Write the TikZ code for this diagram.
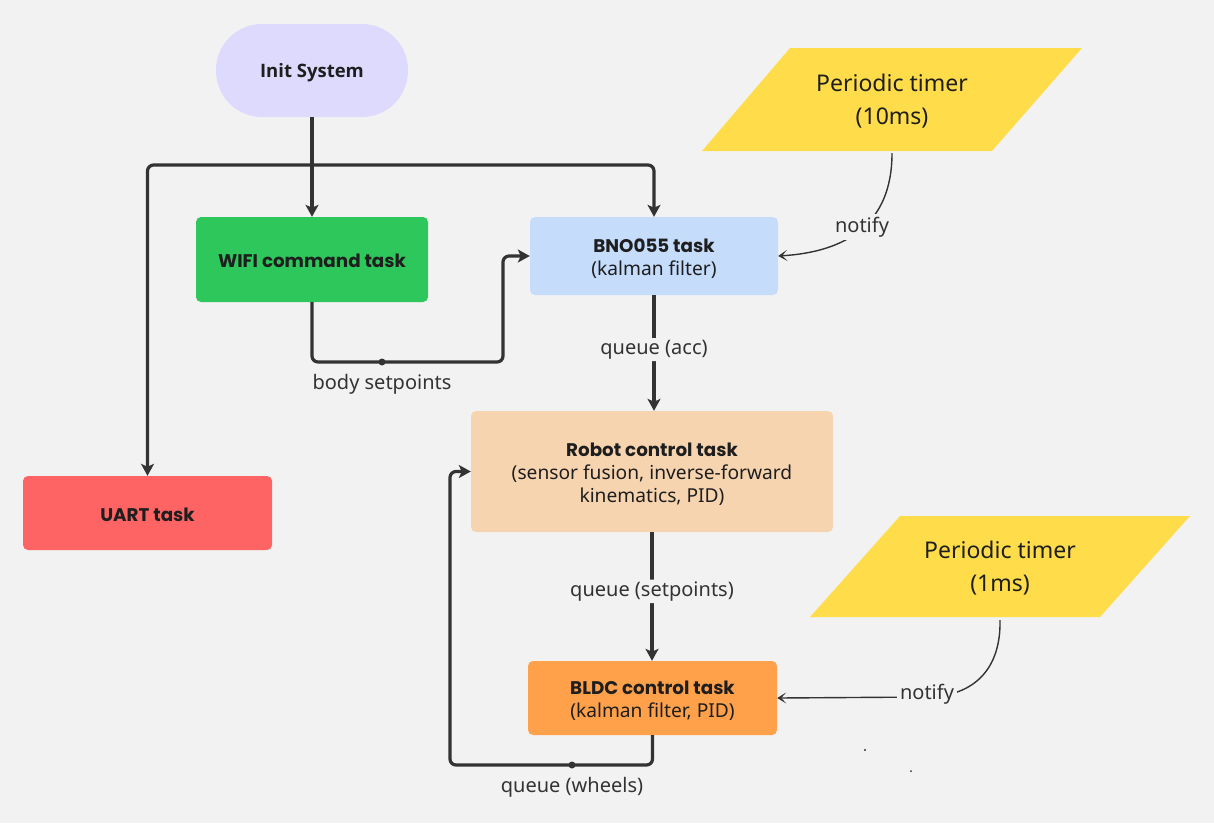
\documentclass[tikz,border=0pt]{standalone}
\usepackage{fontspec}
\setmainfont{Noto Sans}
\newfontfamily\titlefont{Poppins}
\newfontfamily\initfont{Open Sans}
\usetikzlibrary{arrows.meta}
\definecolor{bg}{HTML}{F2F2F2}
\definecolor{ln}{HTML}{333333}
\definecolor{txt}{HTML}{1E1E1E}
\definecolor{initc}{HTML}{DEDAFE}
\definecolor{wific}{HTML}{2DC75C}
\definecolor{bnoc}{HTML}{C6DCFB}
\definecolor{uartc}{HTML}{FF6464}
\definecolor{robc}{HTML}{F7D4B0}
\definecolor{bldcc}{HTML}{FFA04B}
\definecolor{yelc}{HTML}{FFDC4A}
\newcommand{\ttl}[1]{{\titlefont\bfseries\fontsize{18.3}{23}\selectfont #1}}
\newcommand{\lowered}[2]{\raisebox{-#1}[\height][\depth]{\begin{tabular}{@{}c@{}}#2\end{tabular}}}
\begin{document}
\begin{tikzpicture}[x=1pt,y=-1pt,
  box/.style={rounded corners=5pt, inner sep=0pt, align=center, text=txt,
    font=\fontsize{19.2}{23}\selectfont},
  conn/.style={line width=3.2pt, draw=ln, rounded corners=6pt,
    -{Stealth[length=12pt,width=13pt,inset=3pt]}},
  plain/.style={line width=3.2pt, draw=ln},
  thinconn/.style={line width=1.4pt, draw=ln,
    -{Stealth[length=9pt,width=11pt,inset=5pt]}},
  lbl/.style={font=\fontsize{20}{24}\selectfont, text=ln, fill=bg, inner sep=2pt},
  timertext/.style={align=center, text=txt, minimum width=200pt, minimum height=103pt,
    inner sep=0pt, font=\fontsize{23}{33}\selectfont}
]
\fill[bg] (0,0) rectangle (1214,823);
\useasboundingbox (0,0) rectangle (1214,823);

% timers
\fill[yelc] (702,151) -- (790,48) -- (1082,48) -- (992,151) -- cycle;
\node[timertext] (t1) at (892,101.5) {Periodic timer\\(10ms)};
\fill[yelc] (810,617) -- (900,516) -- (1190,516) -- (1100,617) -- cycle;
\node[timertext] (t2) at (1000,568.5) {Periodic timer\\(1ms)};

% boxes
\node[box, fill=initc, minimum width=192pt, minimum height=93pt, rounded corners=46pt]
  (init) at (312,70.5) {\lowered{2pt}{\initfont\bfseries\fontsize{18.5}{23}\selectfont Init System}};
\node[box, fill=wific, minimum width=232pt, minimum height=85pt]
  (wifi) at (312,259.5) {\lowered{3pt}{\ttl{WIFI command task}}};
\node[box, fill=bnoc, minimum width=248pt, minimum height=78pt]
  (bno) at (654,256) {\lowered{3pt}{\ttl{BNO055 task}\\(kalman filter)}};
\node[box, fill=uartc, minimum width=249pt, minimum height=74pt]
  (uart) at (147.5,513) {\lowered{3.5pt}{\ttl{UART task}}};
\node[box, fill=robc, minimum width=362pt, minimum height=121pt]
  (rob) at (652,471.5) {\lowered{3pt}{\ttl{Robot control task}\\(sensor fusion, inverse-forward\\kinematics, PID)}};
\node[box, fill=bldcc, minimum width=249pt, minimum height=74pt]
  (bldc) at (652.5,698) {\lowered{3pt}{\ttl{BLDC control task}\\(kalman filter, PID)}};

% init fan-out
\coordinate (j) at (312,165);
\draw[plain] (init.south) -- (j);
\draw[conn] (j) -- (wifi.north);
\draw[conn] (j) -| (uart.north);
\draw[conn] (j) -| (bno.north);

% wifi -> bno
\coordinate (w1) at (382,362);
\draw[conn] (wifi.south) |- (w1) -| (503,256) -- (bno.west);
\fill[ln] (w1) circle (3.5pt);
\node[lbl, fill=none] (lw1) at (382,384) {body setpoints};

% bno -> robot
\draw[conn] (bno.south) -- node[lbl, pos=0.47] (lq1) {queue (acc)} (bno.south |- rob.north);
% robot -> bldc
\draw[conn] (rob.south) -- node[lbl, pos=0.46] (lq2) {queue (setpoints)} (rob.south |- bldc.north);

% bldc -> robot loop
\coordinate (w2) at (572,765);
\draw[conn] (bldc.south) |- (w2) -| (450,471.5) -- (rob.west);
\fill[ln] (w2) circle (3.5pt);
\node[lbl, fill=none] (lw2) at (572,787) {queue (wheels)};

% notify arrows
\draw[thinconn] (t1.south) .. controls (892,225) and (845,252) .. (bno.east);
\node[lbl, inner sep=3pt] (n1) at (862,227) {notify};
\draw[thinconn] (t2.south) .. controls (1001,668) and (975,697) .. (925,697) -- (bldc.east);
\node[lbl, inner sep=3pt] (n2) at (927,694) {notify};

% stray dots
\fill[ln] (865,750) circle (1.2pt);
\fill[ln] (911,771) circle (1pt);
\end{tikzpicture}
\end{document}
